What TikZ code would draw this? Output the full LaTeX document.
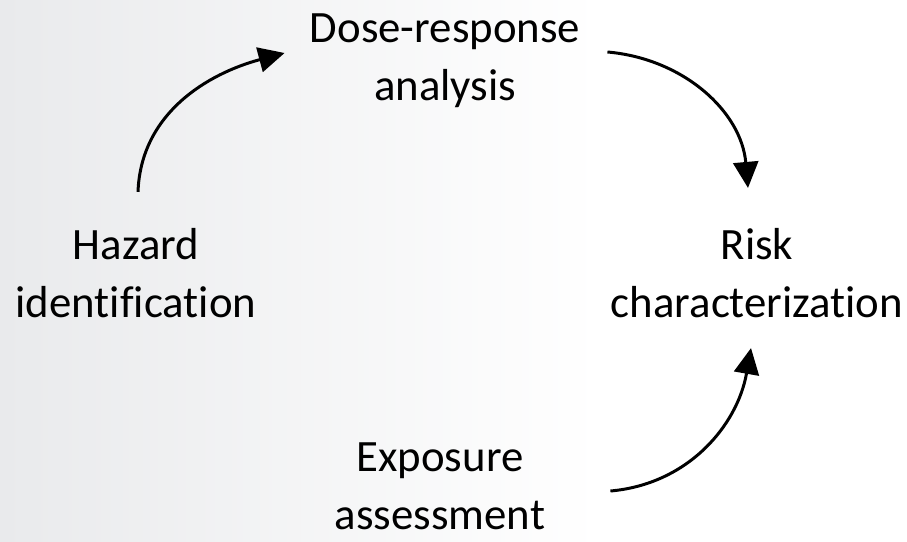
\documentclass[tikz,border=0pt]{standalone}
\usepackage{fontspec}
\setmainfont{Carlito}[Ligatures=NoCommon]
\usetikzlibrary{calc,arrows.meta}
\definecolor{bggray}{RGB}{233,234,236}

\begin{document}
\begin{tikzpicture}[
    steplabel/.style={align=center, inner sep=0pt, font=\fontsize{25.5}{33}\selectfont},
    cyc/.style={-{Triangle[length=0.52cm, width=0.5cm]}, line width=1.7pt}
  ]

    % background
    \useasboundingbox (0,0) rectangle (18.14,10.82);
    \fill[white] (0,0) rectangle (18.14,10.82);
    \shade[left color=bggray, right color=white] (0,0) rectangle (12,10.82);

    \node[steplabel] (hazard) at (2.72, 5.36) {Hazard\\identification};
    \node[steplabel] (dose) at (8.9, 9.6) {Dose-response\\analysis};
    \node[steplabel] (risk) at (15.14, 5.36) {Risk\\characterization};
    \node[steplabel] (exposure) at (8.8, 1.1) {Exposure\\assessment};

    \draw[cyc] ($(hazard.north)+(0.04,0.72)$) to[out=88, in=195] ($(dose.west)+(-0.5,0.16)$);
    \draw[cyc] ($(dose.east)+(0.54,0.18)$) to[out=-5, in=95] ($(risk.north)+(-0.18,0.8)$);
    \draw[cyc] ($(exposure.east)+(1.3,-0.1)$) to[out=5, in=-100] ($(risk.south)+(-0.12,-0.6)$);
    \end{tikzpicture}
\end{document}
